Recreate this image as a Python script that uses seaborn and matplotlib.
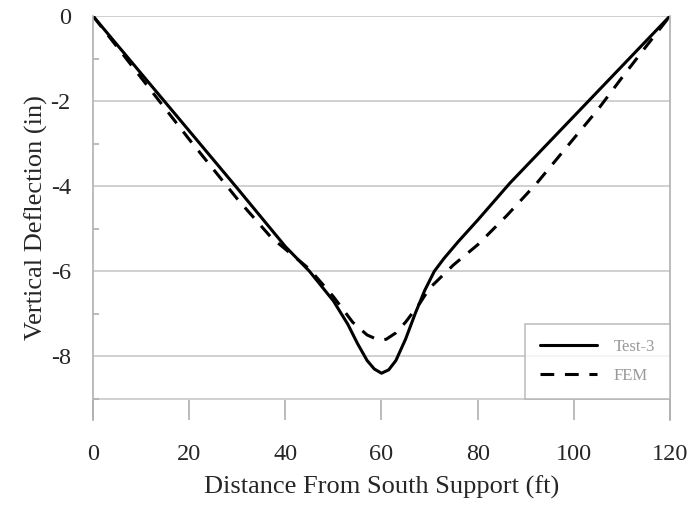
import numpy as np
import pandas as pd
import matplotlib
matplotlib.use('Agg')
import matplotlib.pyplot as plt
import seaborn as sns
from matplotlib.ticker import MultipleLocator

# --- Data ---
test_x = [0, 10, 20, 30, 40, 45, 50, 53, 55, 57, 58.5, 60, 61.5, 63, 65, 67, 69, 71, 73, 76, 80,
          86.7, 90, 100, 110, 120]
test_y = [0, -1.35, -2.7, -4.05, -5.42, -6.0, -6.7, -7.25, -7.7, -8.1, -8.3, -8.4, -8.32, -8.1,
          -7.6, -7.0, -6.45, -6.0, -5.7, -5.3, -4.8, -3.93, -3.54, -2.36, -1.18, 0]
fem_x = [0, 10, 20, 30, 37, 45, 50, 54, 57, 59, 60, 61, 63, 65, 68, 70, 75, 80, 86, 92.3, 100,
         105, 110, 115, 120]
fem_y = [0, -1.45, -2.9, -4.3, -5.2, -5.95, -6.6, -7.2, -7.5, -7.6, -7.62, -7.6, -7.45, -7.2,
         -6.75, -6.4, -5.85, -5.38, -4.7, -3.93, -2.88, -2.2, -1.45, -0.72, 0]

df = pd.concat([
    pd.DataFrame({'x': test_x, 'y': test_y, 'series': 'Test-3'}),
    pd.DataFrame({'x': fem_x, 'y': fem_y, 'series': 'FEM'}),
])

sns.set_style('white')
plt.rcParams['font.family'] = ['Liberation Serif', 'DejaVu Serif']
plt.rcParams['axes.unicode_minus'] = False

fig = plt.figure(figsize=(6.93, 5.05), dpi=100)
ax = fig.add_axes([0.1342, 0.1683, 0.8326, 0.8000])

sns.lineplot(data=df, x='x', y='y', hue='series', style='series',
             palette=['black', 'black'], dashes=[(None, None), (4.5, 3.5)],
             linewidth=2.2, sort=False, ax=ax)

ax.set_xlim(0, 120)
ax.set_ylim(-9.5, 0)
ax.xaxis.set_major_locator(MultipleLocator(20))
ax.yaxis.set_major_locator(MultipleLocator(2))
ax.yaxis.set_minor_locator(MultipleLocator(1))

grid_c = '#c8c8c8'
for v in [0, -2, -4, -6, -8, -9]:
    ax.axhline(v, color=grid_c, linewidth=1.2, zorder=0)

for s in ['top', 'bottom']:
    ax.spines[s].set_visible(False)
for s in ['left', 'right']:
    ax.spines[s].set_color('#b0b0b0')
    ax.spines[s].set_linewidth(1.2)

ax.tick_params(axis='x', direction='in', length=14.5, width=1.2, color='#b0b0b0',
               labelsize=17.5, pad=17, bottom=True)
ax.tick_params(axis='y', which='major', length=0, labelsize=17.5, pad=16)
ax.tick_params(axis='y', which='minor', direction='in', length=4, width=1.2,
               color='#b0b0b0', left=True)

ax.set_xlabel('Distance From South Support (ft)', fontsize=19, labelpad=8)
ax.set_ylabel('Vertical Deflection (in)', fontsize=19, labelpad=2)

leg = ax.legend(loc='lower right', bbox_to_anchor=(1.0, 0.0526), borderaxespad=0,
                frameon=True, fancybox=False, fontsize=12, handlelength=3.4,
                borderpad=0.9, labelspacing=0.75, handletextpad=1.0)
leg.get_frame().set_edgecolor('#b0b0b0')
leg.get_frame().set_linewidth(1.2)
for t in leg.get_texts():
    t.set_color('#999999')

fig.savefig('out.png', dpi=100)
